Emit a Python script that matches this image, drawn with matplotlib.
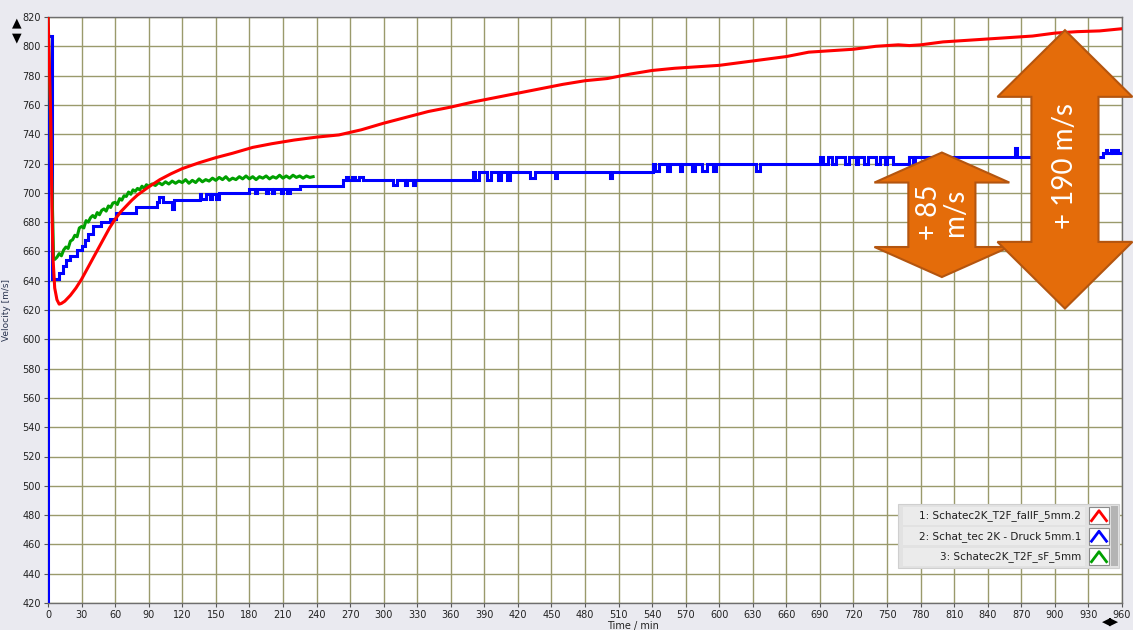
import matplotlib
matplotlib.use("Agg")
import matplotlib.pyplot as plt
from matplotlib.patches import Polygon, Rectangle
from matplotlib.lines import Line2D

# ---------------- data ----------------
x_ticks = list(range(0, 961, 30))
y_ticks = list(range(420, 821, 20))

series_names = ["1: Schatec2K_T2F_fallF_5mm.2",
                "2: Schat_tec 2K - Druck 5mm.1",
                "3: Schatec2K_T2F_sF_5mm"]
series_colors = ["#FF0000", "#0000FF", "#00A000"]

# 1: smooth curve
red_time = [0, 2.5, 3.5, 4.5, 6, 8, 10, 12, 15, 20, 25, 30, 35, 40, 45, 50, 55, 60,
            65, 70, 75, 80, 90, 100, 110, 120, 135, 150, 165, 183, 200, 220, 240,
            260, 280, 300, 320, 340, 360, 380, 400, 420, 440, 460, 480, 500, 520,
            540, 560, 580, 600, 620, 640, 660, 680, 700, 720, 740, 760, 770, 780,
            790, 800, 820, 840, 860, 880, 900, 920, 940, 960]
red_vel = [822, 750, 690, 655, 635, 627, 624, 624.5, 626, 630, 635, 641, 648, 655,
           662, 669, 676, 682, 687, 691, 695, 698.5, 704, 709, 713, 716.5, 720.5,
           724, 727, 731, 733.5, 736, 738, 739.5, 743, 747.5, 751.5, 755.5, 758.5,
           762, 765, 768, 771, 774, 776.5, 778, 781, 783.5, 785, 786, 787, 789, 791,
           793, 796, 797, 798, 800, 801, 800.5, 801, 802, 803, 804, 805, 806, 807,
           809, 810, 810.5, 812]

# 2: quantised step signal (value holds until the next entry)
blue_time = [0, 0, 3.5, 10, 13, 16, 20, 26, 30, 33, 36, 40, 47, 55, 61, 79, 97, 99,
             103, 111, 113, 136, 137, 141, 145, 147, 150, 153, 180, 185, 187, 195,
             197, 200, 202, 208, 210, 214, 216, 225, 264, 266, 268, 272, 274, 278,
             282, 308, 312, 319, 321, 326, 328, 380, 382, 385, 392, 396, 402, 405,
             410, 413, 431, 435, 453, 455, 502, 504, 541, 543, 546, 553, 556, 565,
             567, 576, 578, 585, 589, 594, 597, 633, 636, 690, 693, 697, 701, 704,
             712, 716, 722, 724, 729, 733, 740, 744, 748, 750, 755, 770, 773, 775,
             864, 866, 943, 946, 947, 950, 951, 954, 956, 960]
blue_vel = [420, 807, 641, 645, 650, 654, 657, 661, 664, 668, 672, 677, 680, 682,
            686, 690, 694, 697, 694, 689, 695, 699.5, 696, 699.5, 696, 699.5, 696,
            700, 702.5, 700, 702.5, 700, 702.5, 700, 702.5, 700, 702.5, 700, 702.5,
            704.5, 709, 711, 709, 711, 709, 711, 709, 705, 709, 705, 709, 705, 709,
            714.5, 709, 714.5, 709, 714.5, 709, 714.5, 709, 714.5, 710, 714.5, 710,
            714.5, 710, 714.5, 719.5, 715, 719.5, 715, 719.5, 715, 719.5, 715, 719.5,
            715, 719.5, 715, 719.5, 715, 719.5, 724.5, 720, 724.5, 720, 724.5, 720,
            724.5, 720, 724.5, 720, 724.5, 720, 724.5, 720, 724.5, 720, 724.5, 720,
            724.5, 730.5, 724.5, 727.5, 729.5, 727.5, 729.5, 727.5, 729.5, 727.5,
            727.5]

# 3: noisy curve, shorter run
green_time = [0, 0.5, 5, 6, 8, 10, 12, 14, 16, 18, 20, 22, 24, 26, 28, 30, 32, 34,
              36, 38, 40, 42, 44, 46, 48, 50, 52, 54, 56, 58, 60, 62, 64, 66, 68,
              70, 72, 74, 76, 78, 80, 82, 84, 86, 88, 90, 93, 96, 99, 102, 105, 108,
              111, 114, 117, 120, 123, 126, 129, 132, 135, 138, 141, 144, 147, 150,
              153, 156, 159, 162, 165, 168, 171, 174, 177, 180, 183, 186, 189, 192,
              195, 198, 201, 204, 207, 210, 213, 216, 219, 222, 225, 228, 231, 234,
              237]
green_vel = [820, 808, 655, 654.5, 656, 658.5, 657, 661, 663, 662, 667, 668, 671,
             670, 676, 677, 676, 681, 680, 683, 684.5, 683, 686.5, 685, 688, 689,
             687.5, 691, 690, 693, 693.5, 692, 696, 695, 698, 697.5, 700.5, 699, 702,
             701, 703, 702, 704.5, 703, 705.5, 704.5, 706, 705, 707, 705.5, 707.5,
             706, 708, 706.5, 708, 707, 709, 706.5, 708.5, 707, 709.5, 707.5, 709,
             708, 710, 708.5, 710.5, 709, 711, 708.5, 710, 709, 711, 709.5, 711.5,
             709.5, 711, 709, 711, 710, 711.5, 709.5, 711, 710, 712, 710, 711.5, 710,
             712, 710.5, 711.5, 710, 711.5, 710.5, 711]

# increase annotations
gain_span = [85, 190]
gain_center_time = [799, 909]
gain_center_vel = [685, 716]
gain_label = ["+ 85\nm/s", "+ 190 m/s"]

# ---------------- figure ----------------
W, H = 1133, 630
fig = plt.figure(figsize=(W / 100, H / 100), dpi=100, facecolor="#EAEAF0")


def fx(px):
    return px / W


def fy(py):
    return 1 - py / H


ax = fig.add_axes([fx(48), fy(603), fx(1122) - fx(48), fy(17) - fy(603)])
ax.set_facecolor("white")
ax.set_xlim(0, 960)
ax.set_ylim(420, 820)
ax.set_xticks(x_ticks)
ax.set_yticks(y_ticks)
ax.grid(True, color="#9A9A6C", linewidth=1.0)
ax.set_axisbelow(True)
ax.tick_params(axis="both", labelsize=7, length=3, color="#555555",
               labelcolor="#222222", pad=2)
for s in ax.spines.values():
    s.set_color("#6E6E6E")
    s.set_linewidth(1.0)

ax.set_ylabel("Velocity [m/s]", fontsize=6.5, color="#2A3550", labelpad=8)
ax.set_xlabel("Time / min", fontsize=7, color="#222222")
ax.xaxis.set_label_coords((633 - 48) / (1122 - 48), -0.03)
ax.xaxis.label.set_va("top")

ax.plot(blue_time, blue_vel, color=series_colors[1], lw=2.2, drawstyle="steps-post",
        solid_joinstyle="miter", zorder=3)
ax.plot(green_time, green_vel, color=series_colors[2], lw=2.2, zorder=4)
ax.plot(red_time, red_vel, color=series_colors[0], lw=2.2, zorder=5)


def double_arrow(xc, yc, span, head_half, shaft_half, head_len):
    lo, hi = yc - span / 2, yc + span / 2
    pts = [(xc, hi), (xc + head_half, hi - head_len), (xc + shaft_half, hi - head_len),
           (xc + shaft_half, lo + head_len), (xc + head_half, lo + head_len), (xc, lo),
           (xc - head_half, lo + head_len), (xc - shaft_half, lo + head_len),
           (xc - shaft_half, hi - head_len), (xc - head_half, hi - head_len)]
    return Polygon(pts, closed=True, facecolor="#E46C0A", edgecolor="#B4550F",
                   lw=1.5, clip_on=False, zorder=8)


head_lengths = [20.5, 45.5]
for xc, yc, span, hl, lab in zip(gain_center_time, gain_center_vel, gain_span,
                                 head_lengths, gain_label):
    ax.add_patch(double_arrow(xc, yc, span, 60.3, 30.0, hl))
    ax.text(xc, yc + 2, lab, rotation=90, ha="center", va="center", color="white",
            fontsize=20, family="Lato", linespacing=1.0, multialignment="center",
            zorder=9, clip_on=False)

# legend panel
fig.patches.append(Rectangle((fx(898), fy(568)), fx(1119) - fx(898), fy(504) - fy(568),
                             transform=fig.transFigure, facecolor="#E2E2E2",
                             edgecolor="#CFCFCF", lw=0.8, zorder=10))
fig.patches.append(Rectangle((fx(1111), fy(566)), fx(1118) - fx(1111), fy(506) - fy(566),
                             transform=fig.transFigure, facecolor="#B4B4B4",
                             edgecolor="none", zorder=10))
row_centers = [515.7, 536.2, 556.7]
for name, col, yc in zip(series_names, series_colors, row_centers):
    fig.patches.append(Rectangle((fx(903), fy(yc + 9)), fx(1085) - fx(903), fy(yc - 9) - fy(yc + 9),
                                 transform=fig.transFigure, facecolor="#EBEBEB",
                                 edgecolor="none", zorder=10))
    fig.text(fx(1081), fy(yc), name, ha="right", va="center", fontsize=7.5,
             color="#1E1E1E", zorder=11)
    fig.patches.append(Rectangle((fx(1089), fy(yc + 8.5)), fx(1109) - fx(1089), fy(yc - 8.5) - fy(yc + 8.5),
                                 transform=fig.transFigure, facecolor="white",
                                 edgecolor="#8A8A8A", lw=0.8, zorder=11))
    fig.lines.append(Line2D([fx(1091.5), fx(1099), fx(1106.5)],
                            [fy(yc + 5), fy(yc - 5), fy(yc + 5)],
                            transform=fig.transFigure, color=col, lw=2, zorder=12))

# scroll arrows of the axis controls
fig.text(fx(17), fy(23), "\u25B2", ha="center", va="center", fontsize=9, color="black")
fig.text(fx(17), fy(38), "\u25BC", ha="center", va="center", fontsize=9, color="black")
fig.text(fx(1110), fy(622), "\u25C0\u25B6", ha="center", va="center", fontsize=8,
         color="black")

fig.savefig("out.png", dpi=100, facecolor=fig.get_facecolor())
